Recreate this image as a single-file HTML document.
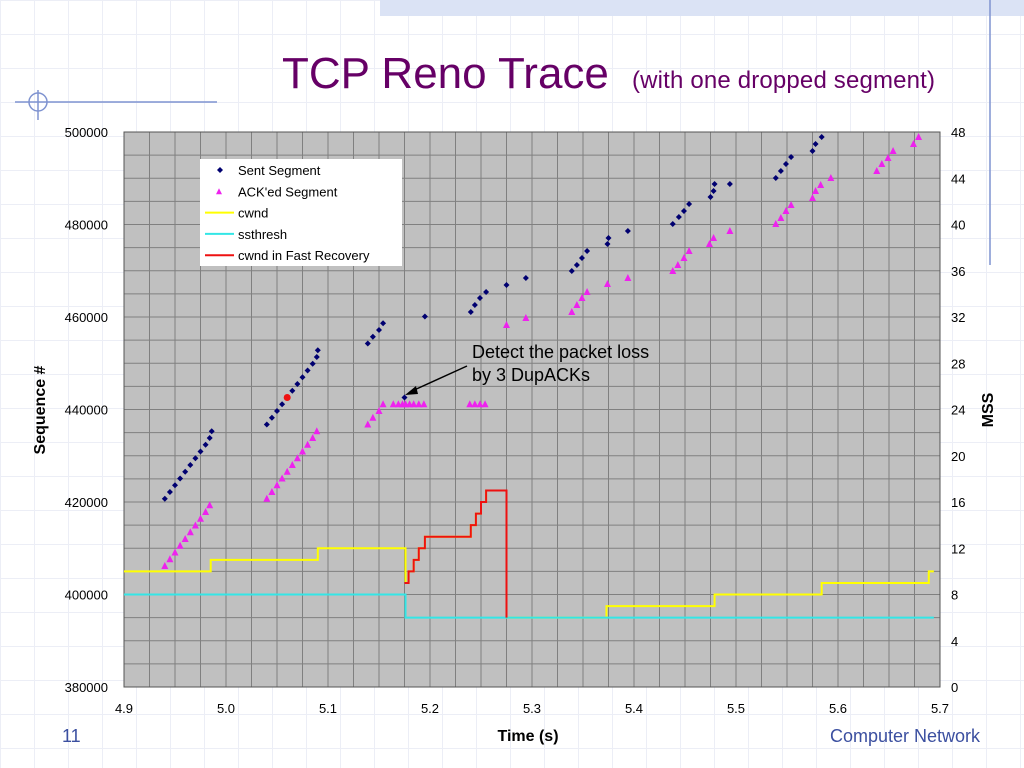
<!DOCTYPE html>
<html><head><meta charset="utf-8"><style>
html,body{margin:0;padding:0;width:1024px;height:768px;overflow:hidden;background:#fff;font-family:"Liberation Sans",sans-serif;}
#bg{position:absolute;left:0;top:0;width:1024px;height:768px;background-image:linear-gradient(to right,#eceef6 1px,transparent 1px),linear-gradient(to bottom,#eceef6 1px,transparent 1px);background-size:34px 34px;}
</style></head><body>
<div id="bg"></div>
<svg id="s" width="1024" height="768" style="position:absolute;left:0;top:0" font-family="Liberation Sans, sans-serif">
<rect x="380" y="0" width="644" height="16" fill="#dbe3f5"/>
<line x1="990" y1="0" x2="990" y2="265" stroke="#7f93d0" stroke-width="1.5"/>
<line x1="15" y1="102" x2="217" y2="102" stroke="#7f93d0" stroke-width="1.5"/>
<circle cx="38" cy="102" r="9" fill="none" stroke="#7f93d0" stroke-width="1.5"/>
<line x1="38" y1="90" x2="38" y2="120" stroke="#7f93d0" stroke-width="1.5"/>
<text x="282" y="88" font-size="44" fill="#660066">TCP Reno Trace</text>
<text x="632" y="88" font-size="24" fill="#660066" textLength="303">(with one dropped segment)</text>
<g id="chart"></g>
<text x="62" y="742" font-size="18" fill="#3b4fa0">11</text>
<text x="980" y="742" font-size="18" fill="#3b4fa0" text-anchor="end">Computer Network</text>
</svg>
<script>
const xTicks=[4.9,5.0,5.1,5.2,5.3,5.4,5.5,5.6,5.7];
const yTicks=[380000,400000,420000,440000,460000,480000,500000];
const y2Ticks=[0,4,8,12,16,20,24,28,32,36,40,44,48];
const sentT=[4.940,4.945,4.950,4.955,4.960,4.965,4.970,4.975,4.980,4.984,4.986,5.040,5.045,5.050,5.055,5.065,5.070,5.075,5.080,5.085,5.089,5.090,5.139,5.144,5.150,5.154,5.175,5.195,5.240,5.244,5.249,5.255,5.275,5.294,5.339,5.344,5.349,5.354,5.374,5.375,5.394,5.438,5.444,5.449,5.454,5.475,5.478,5.479,5.494,5.539,5.544,5.549,5.554,5.575,5.578,5.584];
const sentS=[420700,422160,423620,425080,426540,428000,429460,430920,432380,433840,435300,436760,438220,439680,441140,444060,445520,446980,448440,449900,451360,452820,454280,455740,457200,458660,442600,460120,461075,462588,464102,465399,466912,468426,469939,471236,472750,474263,475777,477074,478587,480101,481614,482911,484425,485938,487235,488749,488749,490046,491559,493073,494586,495883,497397,498910];
const lostT=[5.060];
const lostS=[442600];
const ackT=[4.940,4.945,4.950,4.955,4.960,4.965,4.970,4.975,4.980,4.984,5.040,5.045,5.050,5.055,5.060,5.065,5.070,5.075,5.080,5.085,5.089,5.139,5.144,5.150,5.154,5.164,5.169,5.173,5.176,5.180,5.184,5.189,5.194,5.239,5.244,5.249,5.254,5.275,5.294,5.339,5.344,5.349,5.354,5.374,5.394,5.438,5.443,5.449,5.454,5.474,5.478,5.494,5.539,5.544,5.549,5.554,5.575,5.578,5.583,5.593,5.638,5.643,5.649,5.654,5.674,5.679];
const ackS=[406160,407620,409080,410540,412000,413460,414920,416380,417840,419300,420700,422160,423620,425080,426540,428000,429460,430920,432380,433840,435300,436760,438220,439680,441140,441140,441140,441140,441140,441140,441140,441140,441140,441140,441140,441140,441140,458264,459778,461075,462588,464102,465399,467129,468426,469939,471236,472750,474263,475777,477074,478587,480101,481398,482911,484208,485722,487235,488532,490046,491559,493073,494370,495883,497397,498910];
const cwndT=[4.9,4.985,5.090,5.176,5.179,5.184,5.189,5.195,5.240,5.245,5.250,5.255,5.275,5.373,5.479,5.584,5.689,5.694];
const cwndV=[10,11,12,9,10,11,12,13,14,15,16,17,6,7,8,9,10,10];
const ssT=[4.9,5.176,5.694];
const ssV=[8,6,6];
const frT=[5.175,5.179,5.184,5.189,5.195,5.240,5.245,5.250,5.255,5.275];
const frV=[9,10,11,12,13,14,15,16,17,6];

const NS="http://www.w3.org/2000/svg";
const g=document.getElementById('chart');
const L=124,R=940,T=132,B=687;
const X=t=>L+(t-4.9)/0.8*(R-L);
const Y=s=>B-(s-380000)/120000*(B-T);
const Y2=m=>B-m/48*(B-T);
function mk(tag,a,parent){const e=document.createElementNS(NS,tag);for(const k in a)e.setAttribute(k,a[k]);(parent||g).appendChild(e);return e;}
let e=mk('rect',{x:L,y:T,width:R-L,height:B-T,fill:'#c0c0c0'});


for(let i=1;i<32;i++){const x=L+i*(R-L)/32;e=mk('line',{x1:x,y1:T,x2:x,y2:B,stroke:'#808080','stroke-width':1});

}
for(let i=1;i<24;i++){const y=T+i*(B-T)/24;e=mk('line',{x1:L,y1:y,x2:R,y2:y,stroke:'#808080','stroke-width':1});

}
e=mk('rect',{x:L,y:T,width:R-L,height:B-T,fill:'none',stroke:'#555','stroke-width':1});


xTicks.forEach(v=>{e=mk('text',{x:X(v),y:713,'font-size':13,'text-anchor':'middle',fill:'#000'});e.textContent=v.toFixed(1);

});
yTicks.forEach(v=>{e=mk('text',{x:108,y:Y(v)+5,'font-size':13,'text-anchor':'end',fill:'#000'});e.textContent=v;

});
y2Ticks.forEach(v=>{e=mk('text',{x:951,y:Y2(v)+5,'font-size':13,fill:'#000'});e.textContent=v;

});
e=mk('text',{x:528,y:741,'font-size':16,'font-weight':'bold','text-anchor':'middle'});e.textContent='Time (s)';


e=mk('text',{x:0,y:0,'font-size':16,'font-weight':'bold','text-anchor':'middle',transform:'translate(45,410) rotate(-90)'});e.textContent='Sequence #';


e=mk('text',{x:0,y:0,'font-size':16,'font-weight':'bold','text-anchor':'middle',transform:'translate(993,410) rotate(-90)'});e.textContent='MSS';


function step(ts,vs,color){let d='M'+X(ts[0])+' '+Y2(vs[0]);for(let i=1;i<ts.length;i++){d+=' L'+X(ts[i])+' '+Y2(vs[i-1])+' L'+X(ts[i])+' '+Y2(vs[i]);}return mk('path',{d:d,fill:'none',stroke:color,'stroke-width':2});}
e=step(cwndT,cwndV,'#ffff00');


e=step(ssT,ssV,'#33e6e6');


e=step(frT,frV,'#ee1111');


sentT.forEach((t,i)=>{const x=X(t),y=Y(sentS[i]);e=mk('polygon',{points:`${x},${y-3} ${x+3},${y} ${x},${y+3} ${x-3},${y}`,fill:'#000070'});

});
ackT.forEach((t,i)=>{const x=X(t),y=Y(ackS[i]);e=mk('polygon',{points:`${x},${y-4} ${x+3.5},${y+3} ${x-3.5},${y+3}`,fill:'#ee22ee'});

});
lostT.forEach((t,i)=>{e=mk('circle',{cx:X(t),cy:Y(lostS[i]),r:3.5,fill:'#ee1111'});

});
const lg=mk('g',{});


mk('rect',{x:200,y:159,width:202,height:107,fill:'#fff'},lg);
const items=[['Sent Segment','d','#000070'],["ACK'ed Segment",'t','#ee22ee'],['cwnd','l','#ffff00'],['ssthresh','l','#33e6e6'],['cwnd in Fast Recovery','l','#ee1111']];
items.forEach((it,i)=>{const y=170+i*21.3;
if(it[1]=='d')mk('polygon',{points:`220,${y-3} 223,${y} 220,${y+3} 217,${y}`,fill:it[2]},lg);
else if(it[1]=='t')mk('polygon',{points:`219,${y-3} 222,${y+3} 216,${y+3}`,fill:it[2]},lg);
else mk('line',{x1:205,y1:y,x2:234,y2:y,stroke:it[2],'stroke-width':2},lg);
e=mk('text',{x:238,y:y+5,'font-size':13},lg);e.textContent=it[0];

});
e=mk('text',{x:472,y:358,'font-size':18});e.textContent='Detect the packet loss';


e=mk('text',{x:472,y:381,'font-size':18});e.textContent='by 3 DupACKs';


e=mk('line',{x1:467,y1:366,x2:412,y2:391,stroke:'#000','stroke-width':1.5});


e=mk('polygon',{points:'405,395 416,386 418,394',fill:'#000'});


</script>
</body></html>
